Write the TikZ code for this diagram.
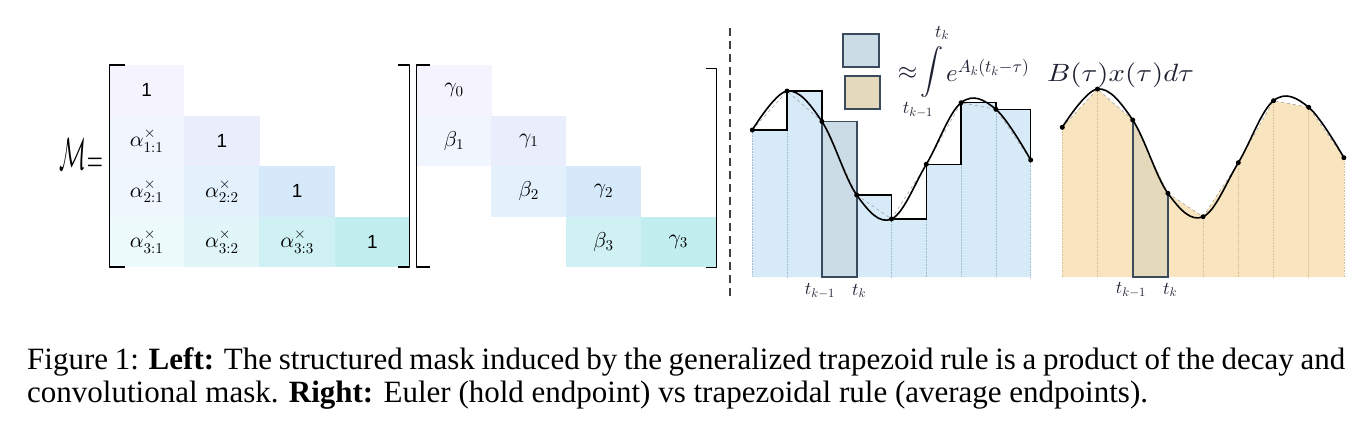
\documentclass[tikz,border=0pt]{standalone}
\usepackage{fontspec}
\setmainfont{Liberation Serif}
\newfontfamily\arialf{Liberation Sans}
\DeclareFontShape{OML}{cmm}{m}{it}{<-> cmmi10}{}
\DeclareFontShape{OML}{cmm}{b}{it}{<-> cmmib10}{}
\DeclareFontShape{OMS}{cmsy}{m}{n}{<-> cmsy10}{}
\DeclareFontShape{OMX}{cmex}{m}{n}{<-> cmex10}{}
\DeclareFontShape{OT1}{cmr}{m}{n}{<-> cmr10}{}
\definecolor{cA}{HTML}{F5F3FD}
\definecolor{cB}{HTML}{F1F6FE}
\definecolor{cBB}{HTML}{EFF6FE}
\definecolor{cC}{HTML}{E9EDFC}
\definecolor{cD}{HTML}{E3F1FC}
\definecolor{cE}{HTML}{D5E9FA}
\definecolor{cF}{HTML}{EDFBFD}
\definecolor{cG}{HTML}{E1F6F9}
\definecolor{cH}{HTML}{D0F1F4}
\definecolor{cI}{HTML}{C3EEF0}
\definecolor{bluefill}{HTML}{D6EAF8}
\definecolor{hlblue}{HTML}{CCDCE6}
\definecolor{tanfill}{HTML}{F8E5BF}
\definecolor{hltan}{HTML}{E5D9BC}
\definecolor{darkedge}{HTML}{3B4B5E}
\definecolor{gridb}{HTML}{9FBBD0}
\definecolor{gridt}{HTML}{D6C199}
\definecolor{labc}{HTML}{1F2233}
\newcommand\cellfont{\fontsize{19}{22}\selectfont}
\newcommand\mc[1]{{\fontsize{21.5}{24}\selectfont$#1$}}
\begin{document}
\begin{tikzpicture}[x=1pt,y=-1pt,
  cell/.style={minimum width=75.3pt, minimum height=50.5pt, inner sep=0pt, anchor=center, font=\cellfont},
  brk/.style={line width=1.4pt, black, line join=round},
  stepline/.style={line width=1.3pt, black},
  hlbar/.style={line width=1.8pt, draw=darkedge},
  gridline/.style={densely dotted, line width=0.6pt},
  chord/.style={dashed, line width=0.5pt, gray!80},
  curveline/.style={line width=1.6pt, black, line cap=round},
  dot/.style={circle, fill=black, inner sep=0pt, minimum size=5pt},
  sep/.style={dashed, line width=1.3pt, black!75, dash pattern=on 8pt off 5pt},
  lab/.style={font=\fontsize{18}{21}\selectfont, text=labc, inner sep=0pt},
  frm/.style={font=\fontsize{25}{29}\selectfont, text=labc, inner sep=0pt},
  legbox/.style={line width=2pt, draw=darkedge}
]
\useasboundingbox (0,0) rectangle (1369,432);

% ---------- Matrix 1 ----------
\node[cell, fill=cA] (a11) at (146.7,90.25) {\arialf 1};
\node[cell, fill=cB] (a21) at (146.7,140.75) {\mc{\alpha^{\times}_{1:1}}};
\node[cell, fill=cC] (a22) at (221.9,140.75) {\arialf 1};
\node[cell, fill=cBB] (a31) at (146.7,191.25) {\mc{\alpha^{\times}_{2:1}}};
\node[cell, fill=cD] (a32) at (221.9,191.25) {\mc{\alpha^{\times}_{2:2}}};
\node[cell, fill=cE] (a33) at (297.1,191.25) {\arialf 1};
\node[cell, fill=cF] (a41) at (146.7,241.75) {\mc{\alpha^{\times}_{3:1}}};
\node[cell, fill=cG] (a42) at (221.9,241.75) {\mc{\alpha^{\times}_{3:2}}};
\node[cell, fill=cH] (a43) at (297.1,241.75) {\mc{\alpha^{\times}_{3:3}}};
\node[cell, fill=cI] (a44) at (372.3,241.75) {\arialf 1};
\draw[brk] (125,65) -- (109.3,65) -- (109.3,267) -- (125,267);
\draw[brk] (398,65) -- (409.5,65) -- (409.5,267) -- (398,267);

% M =
\node[inner sep=0pt, xscale=0.75, yscale=1.5] (Mcal) at (73,154) {\fontsize{30}{30}\selectfont$\mathcal{M}$};
\node[inner sep=0pt, xscale=0.8, yscale=1.4] (eq) at (95,165) {\fontsize{26}{26}\selectfont$=$};

% ---------- Matrix 2 ----------
\node[cell, fill=cA] (b11) at (454,90.25) {\mc{\gamma_0}};
\node[cell, fill=cB] (b21) at (454,140.75) {\mc{\beta_1}};
\node[cell, fill=cC] (b22) at (528.7,140.75) {\mc{\gamma_1}};
\node[cell, fill=cD] (b32) at (528.7,191.25) {\mc{\beta_2}};
\node[cell, fill=cE] (b33) at (603.5,191.25) {\mc{\gamma_2}};
\node[cell, fill=cH] (b43) at (603.5,241.75) {\mc{\beta_3}};
\node[cell, fill=cI] (b44) at (678.3,241.75) {\mc{\gamma_3}};
\draw[brk] (430,65) -- (416.7,65) -- (416.7,267) -- (430,267);
\draw[brk] (705.5,68.3) -- (716.3,68.3) -- (716.3,267.3) -- (705.5,267.3);

% separator
\coordinate (s1) at (730,28);
\coordinate (s2) at (730,300);
\draw[sep] (s1) -- (s2);

% ---------- Left plot (Euler) ----------
\foreach \i/\x/\y in {0/752.3/130,1/787.1/91,2/821.9/121.5,3/856.7/195,4/891.5/219,5/926.3/164.3,6/961.1/102.7,7/995.9/109.3,8/1030.7/160}{
  \coordinate (L\i) at (\x,\y);
  \coordinate (Lb\i) at (\x,277);
}
\fill[bluefill] (Lb0) -- (L0) -| (L1) -| (L2) -| (L3) -| (L4) -| (L5) -| (L6) -| (L7) -| (L8) -- (Lb8) -- cycle;
\foreach \i in {0,...,8}{ \draw[gridline, gridb] (L\i) -- (Lb\i); }
\draw[stepline] (L0) -| (L1) -| (L2) -| (L3) -| (L4) -| (L5) -| (L6) -| (L7) -| (L8);
\draw[hlbar, fill=hlblue] (L2) rectangle (Lb3);
\draw[chord] (L0) -- (L1) -- (L2) -- (L3) -- (L4) -- (L5) -- (L6) -- (L7) -- (L8);
\draw[curveline] plot[smooth, tension=0.62] coordinates {(L0) (L1) (L2) (L3) (L4) (L5) (L6) (L7) (L8)};
\foreach \i in {0,...,8}{ \node[dot] (dL\i) at (L\i) {}; }
\node[lab] (lt1) at (820,291) {$t_{k-1}$};
\node[lab] (lt2) at (859,291) {$t_k$};

% ---------- Right plot (trapezoid) ----------
\foreach \i/\x/\y in {0/1062.3/127.3,1/1097.5/89,2/1132.7/120,3/1167.9/193.3,4/1203.1/216.7,5/1238.3/162.7,6/1273.5/100.7,7/1308.7/107.3,8/1343.9/157.7}{
  \coordinate (R\i) at (\x,\y);
  \coordinate (Rb\i) at (\x,277);
}
\fill[tanfill] (Rb0) -- (R0) -- (R1) -- (R2) -- (R3) -- (R4) -- (R5) -- (R6) -- (R7) -- (R8) -- (Rb8) -- cycle;
\foreach \i in {0,...,8}{ \draw[gridline, gridt] (R\i) -- (Rb\i); }
\fill[hltan] (R2) -- (Rb2) -- (Rb3) -- (R3) -- cycle;
\draw[hlbar, line join=miter] (R2) -- (Rb2) -- (Rb3) -- (R3);
\draw[chord] (R0) -- (R1) -- (R2) -- (R3) -- (R4) -- (R5) -- (R6) -- (R7) -- (R8);
\draw[curveline] plot[smooth, tension=0.62] coordinates {(R0) (R1) (R2) (R3) (R4) (R5) (R6) (R7) (R8)};
\foreach \i in {0,...,8}{ \node[dot] (dR\i) at (R\i) {}; }
\node[lab] (rt1) at (1131,290) {$t_{k-1}$};
\node[lab] (rt2) at (1170,290) {$t_k$};

% ---------- Legend + formula ----------
\draw[legbox, fill=hlblue] (843.3,34) rectangle (878.7,67.3);
\draw[legbox, fill=hltan] (845,75.7) rectangle (880,109.3);
\node[frm] (approx) at (907.5,73) {$\approx$};
\node[inner sep=0pt, text=labc, font=\fontsize{23}{27}\selectfont] (intg) at (932,72.5) {$\displaystyle\int$};
\node[lab] (upl) at (942,33) {$t_k$};
\node[lab] (lol) at (918,110) {$t_{k-1}$};
\node[frm, anchor=base west] (expo) at (946,81.5) {$e^{A_k(t_k-\tau)}$};
\node[frm, anchor=base west, xscale=1.15] (btx) at (1047,81.5) {$B(\tau)x(\tau)d\tau$};

% ---------- Caption ----------
\node[anchor=base west, inner sep=0pt] (cap1) at (27,369.3) {\fontsize{31}{34}\selectfont\makebox[1318pt][s]{Figure 1: \textbf{Left:} The structured mask induced by the generalized trapezoid rule is a product of the decay and}};
\node[anchor=base west, inner sep=0pt] (cap2) at (27,402) {\fontsize{31}{34}\selectfont convolutional mask. \textbf{Right:} Euler (hold endpoint) vs trapezoidal rule (average endpoints).};
\end{tikzpicture}
\end{document}
